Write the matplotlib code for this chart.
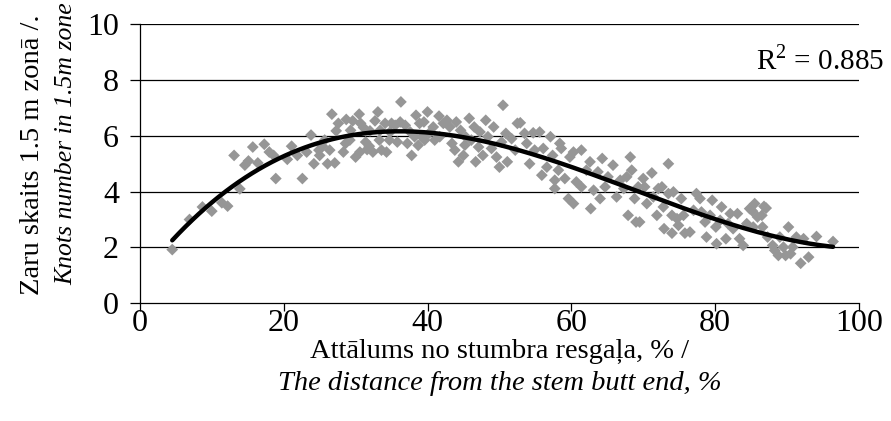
import matplotlib
matplotlib.use('Agg')
import matplotlib.pyplot as plt
import numpy as np

plt.rcParams['font.family'] = ['Liberation Serif', 'DejaVu Serif']
plt.rcParams['mathtext.fontset'] = 'custom'
plt.rcParams['mathtext.rm'] = 'Liberation Serif'

# attālums no stumbra resgaļa, %  /  zaru skaits 1.5 m zonā
dist = [
    4.5, 6.9, 8.7, 10.0, 11.4, 12.2, 13.9, 13.1, 14.6, 15.1, 15.7, 16.4, 17.3, 18.0, 18.6, 18.9,
    20.5, 21.1, 21.9, 22.6, 23.2, 23.8, 24.2, 24.9, 25.4, 26.1, 26.4, 26.7, 27.1, 27.3, 27.6,
    28.3, 28.6, 28.7, 29.3, 29.6, 30.0, 30.5, 30.6, 30.7, 31.1, 31.6, 31.9, 32.0, 32.4, 32.7,
    33.1, 33.3, 33.6, 34.1, 34.3, 34.7, 35.0, 35.5, 35.8, 36.3, 25.0, 25.7, 29.2, 31.4, 33.4, 34.8,
    37.2, 37.8, 38.4, 38.7, 38.9, 39.5, 40.0, 40.2, 40.8, 41.0, 41.6, 42.2, 42.7, 43.1, 43.4,
    43.8, 44.0, 44.3, 44.6, 45.0, 45.3, 45.8, 46.1, 46.5, 46.7, 47.1, 47.3, 47.7, 48.1, 48.4,
    48.9, 49.2, 49.6, 50.0, 50.3, 50.5, 50.9, 51.1, 51.7, 52.2, 52.5, 36.2, 36.9, 37.6, 38.2,
    39.2, 39.6, 41.7, 45.2,
    52.9, 53.5, 54.7, 55.6, 53.8, 54.2, 54.9, 55.9, 56.1, 56.6, 57.1, 57.4, 57.7, 57.7, 58.2,
    58.4, 58.6, 59.1, 59.6, 59.8, 60.3, 60.3, 60.7, 61.4, 61.4, 62.1, 62.6, 62.7, 63.1, 63.7,
    64.0, 64.3, 64.7, 65.1, 65.8, 66.3, 66.8, 67.3, 67.7, 67.9, 68.2, 68.4, 68.8, 69.0, 69.3,
    69.5, 70.0, 70.2, 70.5, 71.2, 71.4, 71.9, 72.1, 72.6, 72.8, 72.9, 73.5, 73.5, 74.0, 74.0,
    74.2, 74.7, 74.9, 75.3, 75.6, 75.8, 76.5, 77.0, 77.4, 77.9, 78.1, 78.6, 78.8, 79.3, 79.6,
    80.1, 80.2, 80.7, 80.9, 81.5, 81.8, 82.1, 82.5, 83.1, 83.4, 83.9, 84.4, 84.8, 85.3, 85.5,
    85.9, 86.8, 86.5, 86.6, 87.3, 88.0, 88.3, 88.8, 89.0, 89.5, 89.8, 90.2, 90.5, 90.8, 91.3,
    91.9, 92.3, 93.0, 94.1, 96.4, 87.1, 85.2,
]
knots = [
    1.92, 3.00, 3.45, 3.30, 3.60, 3.48, 4.10, 5.30, 4.95, 5.10, 5.60, 5.03, 5.70, 5.42, 5.30, 4.47,
    5.16, 5.63, 5.30, 4.47, 5.42, 6.03, 5.00, 5.49, 5.63, 5.00, 5.49, 6.78, 5.03, 6.18, 6.45,
    5.42, 5.73, 6.59, 6.20, 6.54, 5.24, 6.78, 5.42, 6.45, 6.30, 5.51, 5.63, 6.18, 5.42, 6.54,
    6.86, 5.85, 5.49, 6.45, 5.42, 5.85, 6.45, 6.38, 5.78, 7.22, 5.30, 5.85, 5.85, 5.78, 6.20, 6.14,
    5.73, 5.30, 6.74, 5.66, 6.45, 6.50, 6.86, 6.09, 6.32, 5.85, 6.71, 6.45, 6.56, 6.32, 5.73,
    5.49, 6.50, 5.07, 6.20, 5.30, 5.97, 6.63, 5.85, 6.32, 5.07, 5.60, 6.14, 5.30, 6.56, 5.97,
    5.55, 6.32, 5.24, 4.88, 5.78, 7.10, 6.09, 5.07, 5.90, 5.49, 6.45, 6.50, 6.38, 6.14, 5.97,
    5.97, 5.85, 5.97, 5.67,
    6.47, 6.09, 6.11, 6.14, 5.73, 5.00, 5.49, 4.59, 5.55, 4.88, 5.97, 5.30, 4.41, 4.11, 4.77,
    5.73, 5.55, 4.47, 3.75, 5.24, 3.57, 5.42, 4.35, 5.49, 4.17, 4.77, 5.07, 3.39, 4.05, 4.71,
    3.75, 5.19, 4.17, 4.53, 4.95, 3.81, 4.41, 4.11, 4.53, 3.15, 5.24, 4.77, 3.75, 2.91, 4.17,
    2.91, 4.47, 4.17, 3.57, 4.67, 3.81, 3.15, 4.11, 4.17, 3.45, 2.67, 5.00, 3.93, 3.15, 2.51,
    3.99, 3.03, 2.79, 3.75, 3.15, 2.51, 2.55, 3.33, 3.93, 3.75, 3.27, 2.91, 2.37, 3.15, 3.69,
    2.73, 2.13, 2.97, 3.45, 2.31, 2.85, 3.21, 2.67, 3.21, 2.31, 2.07, 2.85, 3.39, 2.73, 3.57,
    3.09, 3.47, 3.15, 2.73, 2.37, 2.07, 1.89, 1.71, 2.37, 2.01, 1.71, 2.73, 1.77, 2.01, 2.37,
    1.43, 2.31, 1.65, 2.39, 2.21, 3.41, 3.30,
]

x_ticks = [0, 20, 40, 60, 80, 100]
y_ticks = [0, 2, 4, 6, 8, 10]

fig = plt.figure(figsize=(8.91, 4.21), dpi=100)
ax = fig.add_axes([0.157, 0.28, 0.807, 0.662])

x = np.array(dist)
y = np.array(knots)

for yy in y_ticks[1:]:
    ax.axhline(yy, color='black', lw=0.9, zorder=1)

ax.scatter(x, y, marker='D', s=36, color='#969696', edgecolors='none', zorder=2)

# polinomiāla trenda līnija (3. kārta)
coef = np.polyfit(x, y, 3)
xs = np.linspace(x.min(), x.max(), 200)
ax.plot(xs, np.polyval(coef, xs), color='black', lw=3.2, solid_capstyle='round', zorder=3)

ax.set_xlim(0, 100)
ax.set_ylim(0, 10)
ax.set_xticks(x_ticks)
ax.set_yticks(y_ticks)
ax.tick_params(axis='both', labelsize=23, direction='out', width=0.9, colors='black')
ax.tick_params(axis='x', length=6, pad=-2)
ax.tick_params(axis='y', length=7, pad=8)
for s in ['top', 'right']:
    ax.spines[s].set_visible(False)
for s in ['left', 'bottom']:
    ax.spines[s].set_linewidth(0.9)

fig.text(0.849, 0.857, 'R$^2$ = 0.885', fontsize=21, ha='left', va='center')

fig.text(0.561, 0.164, 'Attālums no stumbra resgaļa, % /', fontsize=20.5, ha='center', va='center')
fig.text(0.561, 0.088, 'The distance from the stem butt end, %', fontsize=20.5, ha='center',
         va='center', style='italic')
fig.text(0.037, 0.632, 'Zaru skaits 1.5 m zonā /.', fontsize=20.5, ha='center', va='center',
         rotation=90)
fig.text(0.074, 0.658, 'Knots number in 1.5m zone', fontsize=18.5, ha='center', va='center',
         rotation=90, style='italic')

fig.savefig('out.png', dpi=100, facecolor='white')
